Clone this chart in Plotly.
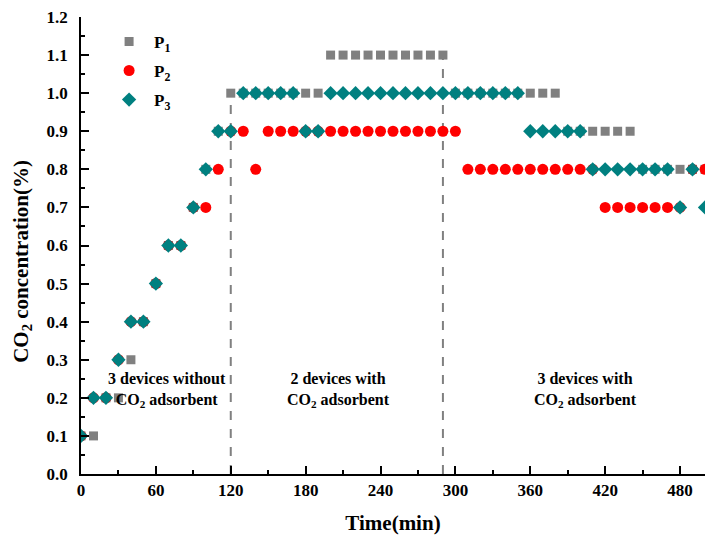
import plotly.graph_objects as go

# Sampling times (min) and CO2 concentration (%) at three measuring points
time_min = list(range(0, 510, 10))

p1 = [0.1, 0.1, 0.2, 0.2, 0.3, 0.4, 0.5, 0.6, 0.6, 0.7,
      0.8, 0.9, 1.0, 1.0, 1.0, 1.0, 1.0, 1.0, 1.0, 1.0,
      1.1, 1.1, 1.1, 1.1, 1.1, 1.1, 1.1, 1.1, 1.1, 1.1,
      1.0, 1.0, 1.0, 1.0, 1.0, 1.0, 1.0, 1.0, 1.0, 0.9,
      0.9, 0.9, 0.9, 0.9, 0.9, 0.8, 0.8, 0.8, 0.8, 0.8,
      0.8]

p2 = [0.1, 0.2, 0.2, 0.3, 0.4, 0.4, 0.5, 0.6, 0.6, 0.7,
      0.7, 0.8, 0.9, 0.9, 0.8, 0.9, 0.9, 0.9, 0.9, 0.9,
      0.9, 0.9, 0.9, 0.9, 0.9, 0.9, 0.9, 0.9, 0.9, 0.9,
      0.9, 0.8, 0.8, 0.8, 0.8, 0.8, 0.8, 0.8, 0.8, 0.8,
      0.8, 0.8, 0.7, 0.7, 0.7, 0.7, 0.7, 0.7, 0.7, 0.8,
      0.8]

p3 = [0.1, 0.2, 0.2, 0.3, 0.4, 0.4, 0.5, 0.6, 0.6, 0.7,
      0.8, 0.9, 0.9, 1.0, 1.0, 1.0, 1.0, 1.0, 0.9, 0.9,
      1.0, 1.0, 1.0, 1.0, 1.0, 1.0, 1.0, 1.0, 1.0, 1.0,
      1.0, 1.0, 1.0, 1.0, 1.0, 1.0, 0.9, 0.9, 0.9, 0.9,
      0.9, 0.8, 0.8, 0.8, 0.8, 0.8, 0.8, 0.8, 0.7, 0.8,
      0.7]

# Operating phases: boundaries (min) and labels
phase_bounds = [120, 290]
phase_labels = ["3 devices without<br>CO<sub>2</sub> adsorbent",
                "2 devices with<br>CO<sub>2</sub> adsorbent",
                "3 devices with<br>CO<sub>2</sub> adsorbent"]
phase_label_x = [69, 206, 404]
phase_label_y = 0.22

x_ticks = list(range(0, 481, 60))
y_ticks = [round(0.1 * i, 1) for i in range(13)]

SERIF = "Liberation Serif"

fig = go.Figure()

series = [
    ("P<sub>1</sub>", p1, "square", 9, "#808080"),
    ("P<sub>2</sub>", p2, "circle", 11, "#FF0000"),
    ("P<sub>3</sub>", p3, "diamond", 11, "#008080"),
]
for i, (name, vals, sym, size, col) in enumerate(series):
    fig.add_trace(go.Scatter(
        x=time_min, y=vals, mode="markers", name=name,
        legendgroup=f"g{i}",
        marker=dict(symbol=sym, size=size, color=col, line=dict(width=0)),
    ))

# Dashed separators between phases, rising to P1 level at the boundary
for b in phase_bounds:
    top = p1[time_min.index(b)]
    fig.add_shape(type="line", x0=b, x1=b, y0=0, y1=top,
                  xref="x", yref="y", layer="below",
                  line=dict(color="#808080", width=2, dash="dash"))

for lab, lx in zip(phase_labels, phase_label_x):
    fig.add_annotation(x=lx, y=phase_label_y, text=lab, showarrow=False,
                       xref="x", yref="y", align="center",
                       font=dict(family=SERIF, size=16, color="black", weight="bold"))

axis_font = dict(family=SERIF, size=17, color="black", weight="bold")
title_font = dict(family=SERIF, size=21, color="black", weight="bold")

# Vertical axis title, set slightly below the plot's mid-height
fig.add_annotation(x=-0.094, y=0.465, xref="paper", yref="paper",
                   text="CO<sub>2</sub> concentration(%)", textangle=-90,
                   showarrow=False, xanchor="center", yanchor="middle",
                   font=title_font)

fig.update_layout(
    width=705, height=538,
    margin=dict(l=81, r=0, t=17, b=64),
    paper_bgcolor="white", plot_bgcolor="white",
    showlegend=True,
    legend=dict(x=0.037, y=0.985, xanchor="left", yanchor="top",
                bgcolor="rgba(0,0,0,0)", tracegroupgap=4, itemwidth=40,
                font=dict(family=SERIF, size=17, color="black", weight="bold")),
    xaxis=dict(
        range=[0, 500], tickvals=x_ticks, ticktext=[str(v) for v in x_ticks],
        showgrid=False, zeroline=False, showline=True, linecolor="black", linewidth=1.5,
        ticks="inside", ticklen=8, tickwidth=1.5, tickcolor="black",
        minor=dict(dtick=30, tick0=0, ticks="inside", ticklen=4, tickwidth=1.5, tickcolor="black"),
        tickfont=axis_font,
        title=dict(text="Time(min)", font=title_font, standoff=16),
    ),
    yaxis=dict(
        range=[0, 1.2], tickvals=y_ticks, ticktext=[f"{v:.1f}" for v in y_ticks],
        showgrid=False, zeroline=False, showline=True, linecolor="black", linewidth=1.5,
        ticks="inside", ticklen=8, tickwidth=1.5, tickcolor="black",
        minor=dict(dtick=0.05, tick0=0, ticks="inside", ticklen=4, tickwidth=1.5, tickcolor="black"),
        tickfont=axis_font, ticklabelstandoff=8,
    ),
)

fig.write_html("out.html")
